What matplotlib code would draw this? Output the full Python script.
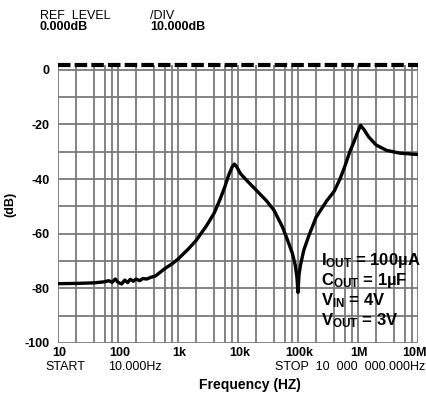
import matplotlib
matplotlib.use('Agg')
import matplotlib.pyplot as plt
from matplotlib.ticker import LogLocator, MultipleLocator, FixedLocator

# curve (Hz, dB)
freq_hz = [10, 20, 40, 60, 70, 80, 90, 100, 115, 130, 145, 160, 180, 200, 230,
           260, 300, 350, 420, 500, 600, 800, 1000, 1500, 2000, 3000, 4000,
           5000, 6000, 7000, 8000, 8700, 9500, 11000, 14000, 20000, 30000,
           40000, 55000, 66000, 80000, 90000, 96000, 100000, 104000, 110000,
           125000, 150000, 200000, 300000, 400000, 500000, 600000, 730000,
           850000, 1000000, 1100000, 1250000, 1500000, 2000000, 3000000,
           5000000, 10000000]
gain_db = [-78.3, -78.2, -78.0, -77.6, -77.2, -77.8, -76.6, -77.8, -78.4, -77.0,
           -77.9, -76.7, -77.4, -76.6, -77.2, -76.4, -76.6, -76.0, -75.5, -74.2,
           -72.8, -71.0, -69.3, -65.5, -62.5, -57.0, -52.5, -47.5, -43.0, -38.5,
           -35.5, -34.5, -35.5, -38.0, -40.5, -44.0, -48.0, -51.5, -57.5, -62.0,
           -67.0, -71.5, -76.0, -81.5, -75.0, -71.5, -66.0, -61.0, -54.0, -48.0,
           -44.5, -40.0, -35.5, -30.0, -26.5, -22.5, -20.3, -21.8, -24.5, -27.5,
           -29.5, -30.5, -31.0]

ref_db = 1.8
x_ticks = [10, 100, 1e3, 1e4, 1e5, 1e6, 1e7]
x_labels = ['10', '100', '1k', '10k', '100k', '1M', '10M']
y_ticks = [0, -20, -40, -60, -80, -100]

plt.rcParams['font.family'] = ['Liberation Sans', 'DejaVu Sans']
plt.rcParams['mathtext.fontset'] = 'custom'
plt.rcParams['mathtext.rm'] = 'Liberation Sans:bold'
plt.rcParams['mathtext.it'] = 'Liberation Sans:bold'
plt.rcParams['mathtext.bf'] = 'Liberation Sans:bold'

fig = plt.figure(figsize=(4.27, 3.96), dpi=100)
ax = fig.add_axes([58 / 427, 0.134, 360 / 427, 0.702])

ax.set_xscale('log')
ax.set_xlim(10, 1e7)
ax.set_ylim(-100, ref_db)

ax.xaxis.set_major_locator(FixedLocator(x_ticks))
ax.xaxis.set_minor_locator(LogLocator(base=10, subs=[2, 4, 6, 8], numticks=20))
ax.set_xticks(x_ticks)
ax.set_xticklabels([])
ax.xaxis.set_minor_formatter(plt.NullFormatter())
ax.set_yticks(y_ticks)
ax.set_yticklabels([str(v) for v in y_ticks], fontweight='bold', fontsize=9)
ax.yaxis.set_minor_locator(MultipleLocator(10))
ax.tick_params(which='both', length=0)
ax.tick_params(axis='y', pad=6)

# frequency labels drawn by hand so the last one can sit inside the figure
for i, (xt, lab) in enumerate(zip(x_ticks, x_labels)):
    dx = -2.5 if i == len(x_ticks) - 1 else 1
    ax.annotate(lab, xy=(xt, 0), xycoords=('data', 'axes fraction'),
                xytext=(dx, -3), textcoords='offset points',
                ha='center', va='top', fontsize=9, fontweight='bold')

for s in ax.spines.values():
    s.set_visible(False)

ax.grid(True, which='both', color='#7a7a7a', linewidth=1.3)
ax.set_axisbelow(True)

ax.axhline(ref_db, color='black', linewidth=3, linestyle=(0, (3, 1)),
           clip_on=False)
ax.plot(freq_hz, gain_db, color='black', linewidth=2.4)

ax.set_ylabel('(dB)', fontweight='bold', fontsize=9, labelpad=6)

# analyzer header and footer text
fig.text(40 / 427, 1 - 16 / 396, 'REF  LEVEL', fontsize=9, va='center')
fig.text(40 / 427, 1 - 27 / 396, '0.000dB', fontsize=9, fontweight='bold', va='center')
fig.text(150 / 427, 1 - 16 / 396, '/DIV', fontsize=9, va='center')
fig.text(150 / 427, 1 - 27 / 396, '10.000dB', fontsize=9, fontweight='bold', va='center')

fig.text(65 / 427, 1 - 367 / 396, 'START', fontsize=9, va='center', ha='center')
fig.text(108 / 427, 1 - 367 / 396, '10.000Hz', fontsize=9, va='center')
fig.text(425 / 427, 1 - 367 / 396, 'STOP  10  000  000.000Hz', fontsize=9,
         va='center', ha='right')
fig.text(250 / 427, 1 - 385 / 396, 'Frequency (HZ)', fontsize=10,
         fontweight='bold', va='center', ha='center')

notes = [r'$\mathrm{I_{OUT}}$ = 100µA', r'$\mathrm{C_{OUT}}$ = 1µF',
         r'$\mathrm{V_{IN}}$ = 4V', r'$\mathrm{V_{OUT}}$ = 3V']
for i, s in enumerate(notes):
    fig.text(321 / 427, 1 - (261 + i * 20) / 396, s, fontsize=12,
             fontweight='bold', va='center')

fig.savefig('out.png', dpi=100)
